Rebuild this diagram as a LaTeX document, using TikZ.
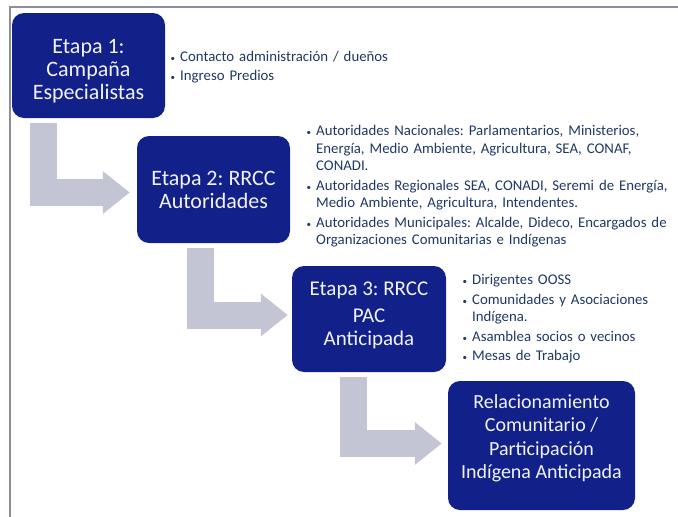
\documentclass[tikz,border=0pt]{standalone}
\usepackage{fontspec}
\setmainfont{Carlito}
\frenchspacing
\usetikzlibrary{positioning,
				arrows.meta}
\definecolor{stagenavy}{RGB}{18,32,138}
\definecolor{stagetext}{RGB}{242,242,242}
\definecolor{notetext}{RGB}{31,56,100}
\definecolor{flowgray}{RGB}{195,197,212}
\definecolor{framegray}{RGB}{140,142,155}
\newcommand{\bul}[1]{\par\noindent\hangindent=10pt\hangafter=1\makebox[10pt][l]{\hspace{0.5pt}\small\textbullet}#1\par}

\begin{document}
\begin{tikzpicture}[x=1pt,y=-1pt,
  stage/.style={rectangle,rounded corners=12pt,fill=stagenavy,text=stagetext,align=center,
                font=\fontsize{22}{23}\selectfont},
  notes/.style={anchor=north west,inner sep=0pt,text=notetext,align=left,
                font=\fontsize{14.8}{17.5}\selectfont\setlength\parskip{2pt}},
  flow/.style={draw=flowgray,line width=27pt,-{Triangle[width=41pt,length=27pt]}}]
  \useasboundingbox (0,0) rectangle (678,517);
  \draw[framegray,line width=1.2pt] (678,7) -- (10,7) -- (10,517);
  % stages
  \node[stage,minimum width=153pt,minimum height=105pt,text depth=0pt] (stage1) at (88.5,65.5) {\rule{0pt}{21.5pt}Etapa 1:\\Campaña\\Especialistas};
  \node[stage,minimum width=153pt,minimum height=107pt] (stage2) at (213.5,189.5) {Etapa 2: RRCC\\Autoridades};
  \node[stage,minimum width=154pt,minimum height=106pt,text depth=10pt,font=\fontsize{21}{23}\selectfont] (stage3) at (369,319) {Etapa 3: RRCC\\[4pt]PAC\\Anticipada};
  \node[stage,minimum width=187pt,minimum height=129pt,text depth=18pt,font=\fontsize{20}{23.5}\selectfont] (stage4) at (541.5,445.5) {Relacionamiento\\Comunitario /\\Participación\\Indígena Anticipada};
  % notes
  \node[notes,text width=230pt] (notes1) at (170,41.5) {\bul{Contacto administración / dueños}\bul{Ingreso Predios}};
  \node[notes,text width=372pt] (notes2) at (306,116) {\bul{Autoridades Nacionales: Parlamentarios, Ministerios,\newline Energía, Medio Ambiente, Agricultura, SEA, CONAF,\newline CONADI.}\bul{Autoridades Regionales SEA, CONADI, Seremi de Energía,\newline Medio Ambiente, Agricultura, Intendentes.}\bul{Autoridades Municipales: Alcalde, Dideco, Encargados de\newline Organizaciones Comunitarias e Indígenas}};
  \node[notes,text width=214pt] (notes3) at (462,265) {\bul{Dirigentes OOSS}\bul{Comunidades y Asociaciones\newline Indígena.}\bul{Asamblea socios o vecinos}\bul{Mesas de Trabajo}};
  % flow arrows
  \draw[flow] ([xshift=32pt,yshift=-5pt]stage1.south west) |- ([xshift=-7pt,yshift=-3pt]stage2.west);
  \draw[flow] ([xshift=64pt,yshift=-5pt]stage2.south west) |- ([xshift=-4pt,yshift=4pt]stage3.west);
  \draw[flow] ([xshift=62pt,yshift=-5pt]stage3.south west) |- ([xshift=-6pt,yshift=2pt]stage4.west);
\end{tikzpicture}
\end{document}
